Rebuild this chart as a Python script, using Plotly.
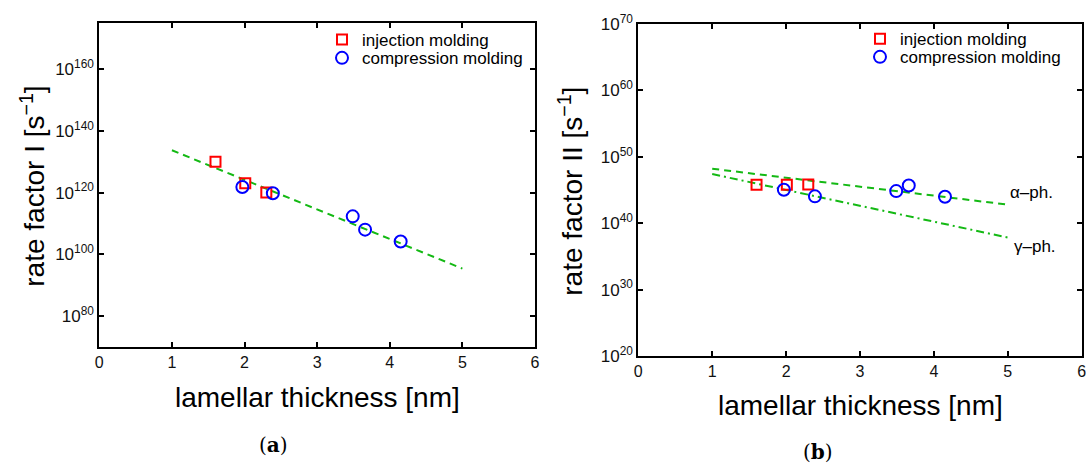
import plotly.graph_objects as go

# ---------------- data ----------------
thick_inj = [1.60, 2.01, 2.30]
thick_comp = [1.97, 2.39, 3.49, 3.66, 4.15]

# panel (a): rate factor I [1/s]
rate1_inj = [1.0e130, 1.0e123, 1.0e120]
rate1_comp = [6.3e121, 6.3e119, 2.0e112, 1.0e108, 1.4e104]
fit1_x = [1.0, 5.0]
fit1_y = [5.0e133, 2.5e95]

# panel (b): rate factor II [1/s]
rate2_inj = [6.3e45, 6.3e45, 6.9e45]
rate2_comp = [1.1e45, 1.1e44, 6.8e44, 4.8e45, 9.5e43]
fit2_x = [1.0, 5.0]
fit2_alpha = [1.6e48, 6.3e42]
fit2_gamma = [2.5e47, 7.0e37]

xticks = [0, 1, 2, 3, 4, 5, 6]
y1_ticks = [1e80, 1e100, 1e120, 1e140, 1e160]
y1_text = ["10<sup>80</sup>", "10<sup>100</sup>", "10<sup>120</sup>", "10<sup>140</sup>", "10<sup>160</sup>"]
y2_ticks = [1e20, 1e30, 1e40, 1e50, 1e60, 1e70]
y2_text = ["10<sup>20</sup>", "10<sup>30</sup>", "10<sup>40</sup>", "10<sup>50</sup>", "10<sup>60</sup>", "10<sup>70</sup>"]

# ---------------- style ----------------
FONT = "Liberation Sans, Arial, sans-serif"
GREEN = "rgb(20,185,20)"
RED = "#ff0000"
BLUE = "#0000ff"
W, H = 1086, 465

fig = go.Figure()

# panel (a)
fig.add_trace(go.Scatter(x=fit1_x, y=fit1_y, mode="lines", showlegend=False,
                         line=dict(color=GREEN, width=2, dash="7px,5px"),
                         xaxis="x", yaxis="y"))
fig.add_trace(go.Scatter(x=thick_inj, y=rate1_inj, mode="markers", name="injection molding",
                         marker=dict(symbol="square-open", size=10, color=RED, line=dict(width=2)),
                         xaxis="x", yaxis="y", legend="legend"))
fig.add_trace(go.Scatter(x=thick_comp, y=rate1_comp, mode="markers", name="compression molding",
                         marker=dict(symbol="circle-open", size=12, color=BLUE, line=dict(width=2)),
                         xaxis="x", yaxis="y", legend="legend2"))

# panel (b)
fig.add_trace(go.Scatter(x=fit2_x, y=fit2_alpha, mode="lines", showlegend=False,
                         line=dict(color=GREEN, width=2, dash="7px,5px"),
                         xaxis="x2", yaxis="y2"))
fig.add_trace(go.Scatter(x=fit2_x, y=fit2_gamma, mode="lines", showlegend=False,
                         line=dict(color=GREEN, width=2, dash="8px,4px,2px,4px"),
                         xaxis="x2", yaxis="y2"))
fig.add_trace(go.Scatter(x=thick_inj, y=rate2_inj, mode="markers", name="injection molding",
                         marker=dict(symbol="square-open", size=10, color=RED, line=dict(width=2)),
                         xaxis="x2", yaxis="y2", legend="legend3"))
fig.add_trace(go.Scatter(x=thick_comp, y=rate2_comp, mode="markers", name="compression molding",
                         marker=dict(symbol="circle-open", size=12, color=BLUE, line=dict(width=2)),
                         xaxis="x2", yaxis="y2", legend="legend4"))

axis_common = dict(showline=True, linecolor="black", linewidth=2, mirror="ticks",
                   ticks="inside", ticklen=5, tickwidth=1.5, tickcolor="black",
                   showgrid=False, zeroline=False, ticklabeloverflow="allow")
xtickfont = dict(family=FONT, size=16, color="#111")
ytickfont = dict(family=FONT, size=17, color="#111")

def px_x(v):
    return v / W

def px_y(v):
    return 1 - v / H

legend_common = dict(bgcolor="rgba(0,0,0,0)", borderwidth=0, xanchor="left", yanchor="middle",
                     font=dict(family=FONT, size=17, color="black"), tracegroupgap=0,
                     itemsizing="trace")

fig.update_layout(
    width=W, height=H,
    margin=dict(l=0, r=0, t=0, b=0, autoexpand=False),
    paper_bgcolor="white", plot_bgcolor="white",
    xaxis=dict(domain=[px_x(99.3), px_x(535)], range=[0, 6], tickvals=xticks, anchor="y",
               tickfont=xtickfont, **axis_common),
    yaxis=dict(domain=[px_y(347), px_y(22.7)], type="log", range=[70, 175],
               tickvals=y1_ticks, ticktext=y1_text, anchor="x", tickfont=ytickfont, **axis_common),
    xaxis2=dict(domain=[px_x(638.3), px_x(1081.7)], range=[0, 6], tickvals=xticks, anchor="y2",
                tickfont=xtickfont, **axis_common),
    yaxis2=dict(domain=[px_y(356), px_y(24)], type="log", range=[20, 70],
                tickvals=y2_ticks, ticktext=y2_text, anchor="x2", tickfont=ytickfont, **axis_common),
    legend=dict(x=px_x(322), y=px_y(40), **legend_common),
    legend2=dict(x=px_x(322), y=px_y(58.3), **legend_common),
    legend3=dict(x=px_x(860), y=px_y(39.3), **legend_common),
    legend4=dict(x=px_x(860), y=px_y(57.3), **legend_common),
    showlegend=True,
)

ann = []
def add_text(text, x, y, size=28, angle=0, family=FONT, xanchor="center", xref="paper", yref="paper"):
    ann.append(dict(text=text, x=x, y=y, xref=xref, yref=yref, showarrow=False,
                    textangle=angle, xanchor=xanchor, yanchor="middle",
                    font=dict(family=family, size=size, color="black")))

add_text("lamellar thickness [nm]", px_x(317), px_y(397))
add_text("lamellar thickness [nm]", px_x(860), px_y(405))
add_text("rate factor I [s<sup>−1</sup>]", px_x(32.7), px_y(186), angle=-90)
add_text("rate factor II [s<sup>−1</sup>]", px_x(570.7), px_y(191), angle=-90)
add_text("(<b>a</b>)", px_x(273), px_y(445), size=20, family="DejaVu Serif, serif")
add_text("(<b>b</b>)", px_x(817.6), px_y(452), size=20, family="DejaVu Serif, serif")
add_text("α–ph.", 5.0, 44.6, size=17, xanchor="left", xref="x2", yref="y2")
add_text("γ–ph.", 5.05, 36.5, size=17, xanchor="left", xref="x2", yref="y2")
fig.update_layout(annotations=ann)

fig.write_html("out.html")
